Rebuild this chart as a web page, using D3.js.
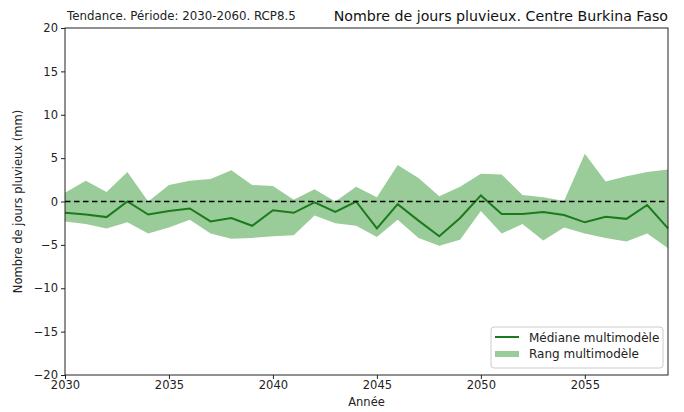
<!DOCTYPE html>
<html><head><meta charset="utf-8">
<script src="https://cdn.jsdelivr.net/npm/d3@7"></script>
<style>body{margin:0;background:#fff;} text{font-family:"DejaVu Sans",sans-serif;}</style>
</head><body><svg id="c" width="684" height="412"></svg>
<script>
const years = d3.range(2030, 2060);
const upper = [1.0, 2.4, 1.1, 3.4, 0.0, 1.9, 2.4, 2.6, 3.6, 1.9, 1.8, 0.2, 1.4, 0.0, 1.7, 0.5, 4.2, 2.7, 0.6, 1.7, 3.2, 3.1, 0.75, 0.5, 0.05, 5.5, 2.3, 2.9, 3.4, 3.7];
const median = [-1.3, -1.5, -1.8, 0.0, -1.5, -1.1, -0.8, -2.3, -1.9, -2.8, -1.0, -1.3, -0.1, -1.2, 0.0, -3.1, -0.3, -2.2, -4.0, -1.9, 0.7, -1.45, -1.45, -1.2, -1.55, -2.4, -1.75, -2.0, -0.4, -3.1];
const lower = [-2.3, -2.6, -3.1, -2.4, -3.7, -3.0, -2.1, -3.7, -4.3, -4.2, -4.0, -3.9, -1.6, -2.5, -2.8, -4.1, -2.1, -4.2, -5.1, -4.4, -1.1, -3.7, -2.6, -4.5, -3.0, -3.7, -4.2, -4.6, -3.7, -5.4];
const xTicks = [2030, 2035, 2040, 2045, 2050, 2055];
const yTicks = [-20, -15, -10, -5, 0, 5, 10, 15, 20];

const L = 65, R = 668, T = 28, B = 375;
const svg = d3.select("#c");
const x = d3.scaleLinear().domain([2030, 2059]).range([L, R]);
const y = d3.scaleLinear().domain([-20, 20]).range([B, T]);
const data = years.map((yr, i) => ({yr, lo: lower[i], hi: upper[i], med: median[i]}));

svg.append("path").datum(data)
  .attr("d", d3.area().x(d => x(d.yr)).y0(d => y(d.lo)).y1(d => y(d.hi)))
  .attr("fill", "#008000").attr("fill-opacity", 0.4);
svg.append("path").datum(data)
  .attr("d", d3.line().x(d => x(d.yr)).y(d => y(d.med)))
  .attr("fill", "none").attr("stroke", "#1b7a1b").attr("stroke-width", 2);
svg.append("line").attr("x1", L).attr("x2", R).attr("y1", y(0)).attr("y2", y(0))
  .attr("stroke", "#000").attr("stroke-width", 1.5).attr("stroke-dasharray", "5.5,3.5");

svg.append("rect").attr("x", L).attr("y", T).attr("width", R - L).attr("height", B - T)
  .attr("fill", "none").attr("stroke", "#222").attr("stroke-width", 1);

const fmt = d => d < 0 ? "\u2212" + Math.abs(d) : String(d);
const xa = svg.append("g").attr("transform", `translate(0,${B})`)
  .call(d3.axisBottom(x).tickValues(xTicks).tickFormat(d3.format("d")).tickSize(4).tickPadding(2));
const ya = svg.append("g").attr("transform", `translate(${L},0)`)
  .call(d3.axisLeft(y).tickValues(yTicks).tickFormat(fmt).tickSize(4).tickPadding(3));
[xa, ya].forEach(a => {
  a.select(".domain").remove();
  a.selectAll("text").attr("font-size", 11.5).attr("fill", "#222").style("font-family", "DejaVu Sans");
  a.selectAll("line").attr("stroke", "#222");
});

svg.append("text").attr("x", (L + R) / 2).attr("y", 406).attr("text-anchor", "middle")
  .attr("font-size", 11.5).attr("fill", "#222").text("Année");
svg.append("text").attr("transform", `translate(22,${(T + B) / 2}) rotate(-90)`).attr("text-anchor", "middle")
  .attr("font-size", 11.5).attr("fill", "#222").text("Nombre de jours pluvieux (mm)");
svg.append("text").attr("x", 67).attr("y", 20).attr("font-size", 11.8).attr("fill", "#222")
  .text("Tendance. Période: 2030-2060. RCP8.5");
svg.append("text").attr("x", R).attr("y", 21).attr("text-anchor", "end").attr("font-size", 14.2).attr("fill", "#111")
  .text("Nombre de jours pluvieux. Centre Burkina Faso");

const lg = svg.append("g");
lg.append("rect").attr("x", 491).attr("y", 327).attr("width", 172).attr("height", 41).attr("rx", 3)
  .attr("fill", "#fff").attr("fill-opacity", 0.8).attr("stroke", "#ccc");
lg.append("line").attr("x1", 495).attr("x2", 519).attr("y1", 337).attr("y2", 337)
  .attr("stroke", "#1b7a1b").attr("stroke-width", 2);
lg.append("rect").attr("x", 495).attr("y", 351).attr("width", 24).attr("height", 6)
  .attr("fill", "#008000").attr("fill-opacity", 0.4);
lg.append("text").attr("x", 529).attr("y", 341.5).attr("font-size", 12).attr("fill", "#222").text("Médiane multimodèle");
lg.append("text").attr("x", 529).attr("y", 358).attr("font-size", 12).attr("fill", "#222").text("Rang multimodèle");
</script></body></html>
